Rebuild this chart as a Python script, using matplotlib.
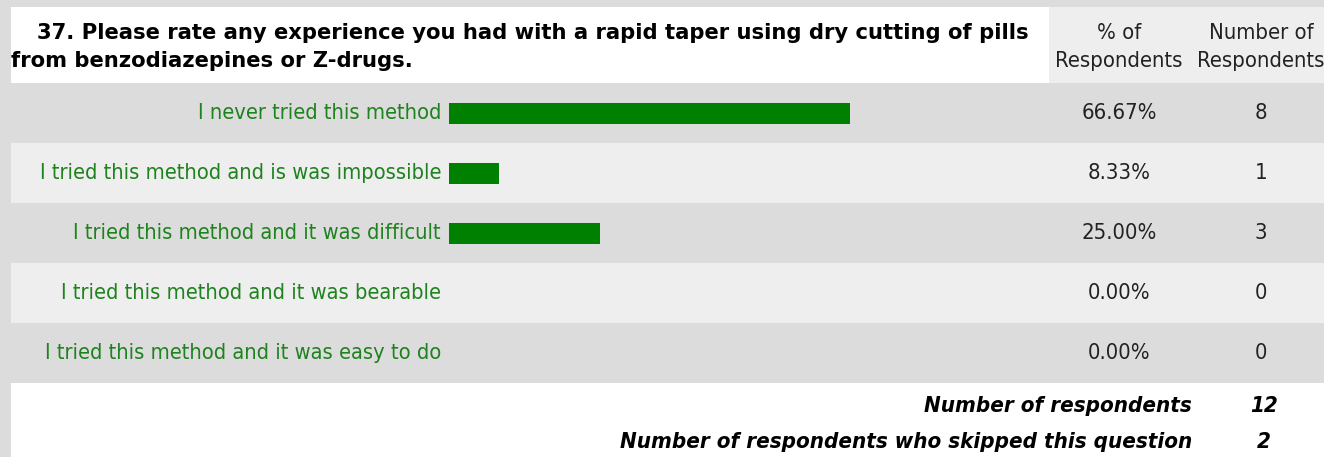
import numpy as np
import matplotlib
matplotlib.use("Agg")
import matplotlib.pyplot as plt
from matplotlib.patches import Rectangle

# survey data
title_line1 = "37. Please rate any experience you had with a rapid taper using dry cutting of pills"
title_line2 = "from benzodiazepines or Z-drugs."
answers = [
    "I never tried this method",
    "I tried this method and is was impossible",
    "I tried this method and it was difficult",
    "I tried this method and it was bearable",
    "I tried this method and it was easy to do",
]
percents = [66.67, 8.33, 25.00, 0.00, 0.00]
counts = [8, 1, 3, 0, 0]
total_respondents = 12
skipped = 2

W, H = 1324, 457
fig = plt.figure(figsize=(W / 100, H / 100), dpi=100)
fig.patch.set_facecolor("#dcdcdc")

# background axes in pixel coordinates
bg = fig.add_axes([0, 0, 1, 1])
bg.set_xlim(0, W)
bg.set_ylim(H, 0)
bg.axis("off")

dark, light = "#dcdcdc", "#eeeeee"
green_txt = "#1e821e"
txt = "#222222"
left = 11
row_top = 83
row_h = 60
col_split = 1049
fs = 15.8

# header
bg.add_patch(Rectangle((left, 7), col_split - left, row_top - 7, color="white", lw=0))
bg.add_patch(Rectangle((col_split, 7), W - col_split, row_top - 7, color=light, lw=0))
bg.text(37, 33, title_line1, fontsize=15.2, fontweight="bold", va="center", ha="left", color="black")
bg.text(left, 61, title_line2, fontsize=15.2, fontweight="bold", va="center", ha="left", color="black")
bg.text(1119, 33, "% of", fontsize=fs, ha="center", va="center", color=txt, fontstretch="condensed")
bg.text(1119, 61, "Respondents", fontsize=fs, ha="center", va="center", color=txt, fontstretch="condensed")
bg.text(1261, 33, "Number of", fontsize=fs, ha="center", va="center", color=txt, fontstretch="condensed")
bg.text(1261, 61, "Respondents", fontsize=fs, ha="center", va="center", color=txt, fontstretch="condensed")

# rows
for i, (lab, p, c) in enumerate(zip(answers, percents, counts)):
    y0 = row_top + i * row_h
    bg.add_patch(Rectangle((left, y0), W - left, row_h, color=dark if i % 2 == 0 else light, lw=0))
    yc = y0 + row_h / 2
    bg.text(441, yc, lab, fontsize=15.7, ha="right", va="center", color=green_txt, fontstretch="condensed")
    bg.text(1119, yc, f"{p:.2f}%", fontsize=fs, ha="center", va="center", color=txt, fontstretch="condensed")
    bg.text(1261, yc, str(c), fontsize=fs, ha="center", va="center", color=txt, fontstretch="condensed")

# footer
foot_top = row_top + len(answers) * row_h
bg.add_patch(Rectangle((left, foot_top), W - left, H - foot_top, color="white", lw=0))
foot_kw = dict(fontsize=16, fontweight="bold", fontstyle="italic", va="center", color="black",
               fontstretch="condensed")
bg.text(1192, 406, "Number of respondents", ha="right", **foot_kw)
bg.text(1264, 406, str(total_respondents), ha="center", **foot_kw)
bg.text(1192, 442, "Number of respondents who skipped this question", ha="right", **foot_kw)
bg.text(1264, 442, str(skipped), ha="center", **foot_kw)

# bar axes: 0-100% across the bar column
bx0, bx1 = 449, 1051
ax = fig.add_axes([bx0 / W, (H - foot_top) / H, (bx1 - bx0) / W, len(answers) * row_h / H])
ax.set_xlim(0, 100)
ax.set_ylim(len(answers) - 0.5, -0.5)
ax.axis("off")
ax.patch.set_alpha(0)
ax.barh(np.arange(len(answers)), percents, height=0.35, left=0, color="#008000")

fig.savefig("out.png", dpi=100, facecolor=fig.get_facecolor())
